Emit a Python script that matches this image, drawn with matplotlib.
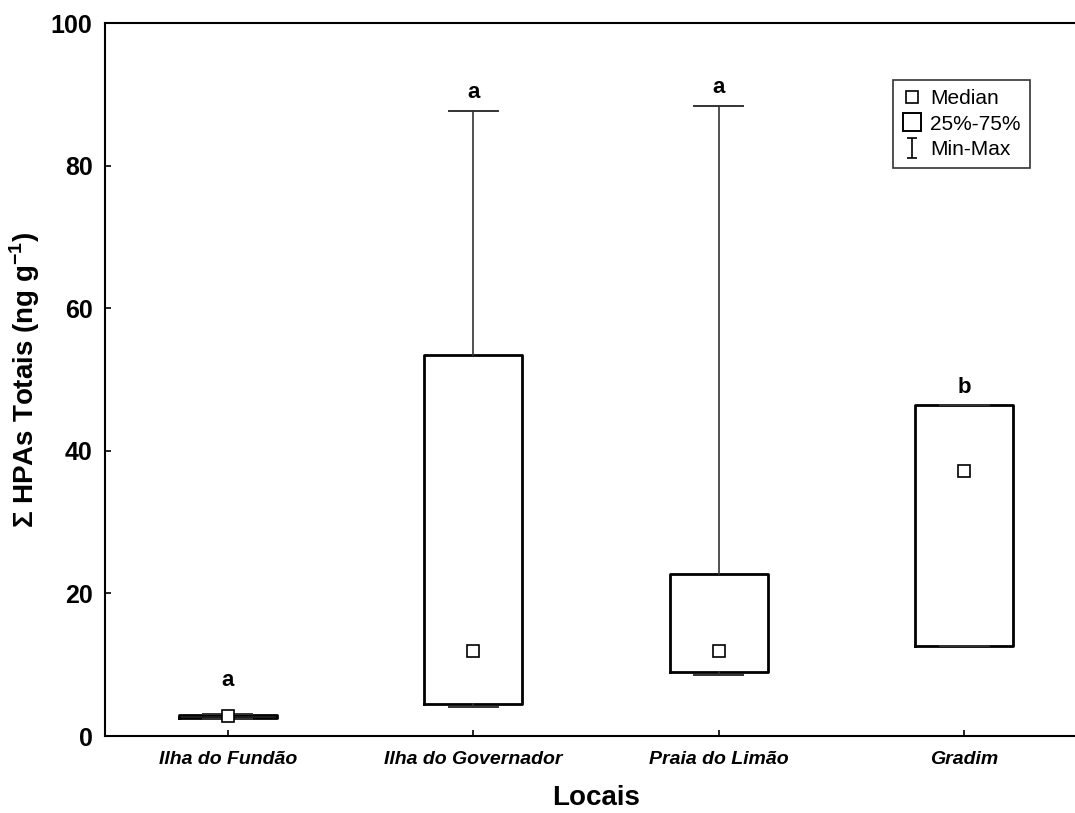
import matplotlib
matplotlib.use('Agg')
import matplotlib.pyplot as plt
from matplotlib.lines import Line2D
from matplotlib.path import Path

plt.rcParams['font.family'] = ['Liberation Sans', 'DejaVu Sans']
plt.rcParams['mathtext.fontset'] = 'custom'
plt.rcParams['mathtext.rm'] = 'Liberation Sans'
plt.rcParams['mathtext.bf'] = 'Liberation Sans:bold'

# dados
locais = ['Ilha do Fundão', 'Ilha do Governador', 'Praia do Limão', 'Gradim']
minimo = [2.4, 4.1, 8.6, 12.6]
q1 = [2.55, 4.5, 9.0, 12.6]
mediana = [2.8, 11.9, 11.9, 37.1]
q3 = [2.95, 53.4, 22.7, 46.4]
maximo = [3.1, 87.7, 88.4, 46.4]
letras = ['a', 'a', 'a', 'b']
letras_y = [7.0, 89.5, 90.2, 48.1]

stats = []
for i in range(len(locais)):
    stats.append({'label': locais[i], 'whislo': minimo[i], 'q1': q1[i],
                  'med': mediana[i], 'mean': mediana[i], 'q3': q3[i],
                  'whishi': maximo[i], 'fliers': []})

fig = plt.figure(figsize=(10.75, 8.13), dpi=100)
ax = fig.add_axes([0.0977, 0.0947, 0.9135, 0.877])

ax.bxp(stats, positions=range(len(locais)), widths=0.4, capwidths=0.2,
       showmeans=True, showfliers=False,
       boxprops=dict(color='black', linewidth=2.0),
       whiskerprops=dict(color='#333333', linewidth=1.2),
       capprops=dict(color='#333333', linewidth=1.4),
       medianprops=dict(linestyle='none'),
       meanprops=dict(marker='s', markersize=8.5, markerfacecolor='white',
                      markeredgecolor='black', markeredgewidth=1.2))

for i, l in enumerate(letras):
    ax.text(i, letras_y[i], l, ha='center', va='baseline',
            fontsize=16, fontweight='bold')

ax.set_xlim(-0.5, 3.5)
ax.set_ylim(0, 100)
ax.set_yticks([0, 20, 40, 60, 80, 100])
ax.set_xticks(range(len(locais)))
ax.set_xticklabels(locais, fontsize=14, fontweight='bold', fontstyle='italic')
for t in ax.get_yticklabels():
    t.set_fontsize(18)
    t.set_fontweight('bold')
ax.tick_params(direction='in', length=4, width=1.2, pad=9)
ax.tick_params(axis='x', pad=11)
for s in ax.spines.values():
    s.set_linewidth(1.5)

ax.set_xlabel('Locais', fontsize=20, fontweight='bold', labelpad=12)
ax.set_ylabel('Σ HPAs Totais (ng g$^{\\mathbf{-1}}$)', fontsize=20,
              fontweight='bold')
ax.yaxis.set_label_coords(-0.064, 0.5)

# legenda
i_path = Path([(-0.5, -1), (0.5, -1), (0, -1), (0, 1), (-0.5, 1), (0.5, 1)],
              [Path.MOVETO, Path.LINETO, Path.MOVETO, Path.LINETO,
               Path.MOVETO, Path.LINETO])
handles = [
    Line2D([], [], linestyle='none', marker='s', markersize=8,
           markerfacecolor='white', markeredgecolor='black', markeredgewidth=1.2),
    Line2D([], [], linestyle='none', marker='s', markersize=13,
           markerfacecolor='white', markeredgecolor='black', markeredgewidth=1.4),
    Line2D([], [], linestyle='none', marker=i_path, markersize=14,
           color='black', markeredgewidth=1.2),
]
leg = ax.legend(handles, ['Median', '25%-75%', 'Min-Max'],
                loc='upper right', bbox_to_anchor=(1030 / 1075, 1 - 80 / 813),
                bbox_transform=fig.transFigure, fontsize=15, frameon=True,
                fancybox=False, edgecolor='black', handlelength=1.0,
                handletextpad=0.35, borderpad=0.45, labelspacing=0.3,
                borderaxespad=0)
leg.get_frame().set_linewidth(1.2)

fig.savefig('out.png', dpi=100)
